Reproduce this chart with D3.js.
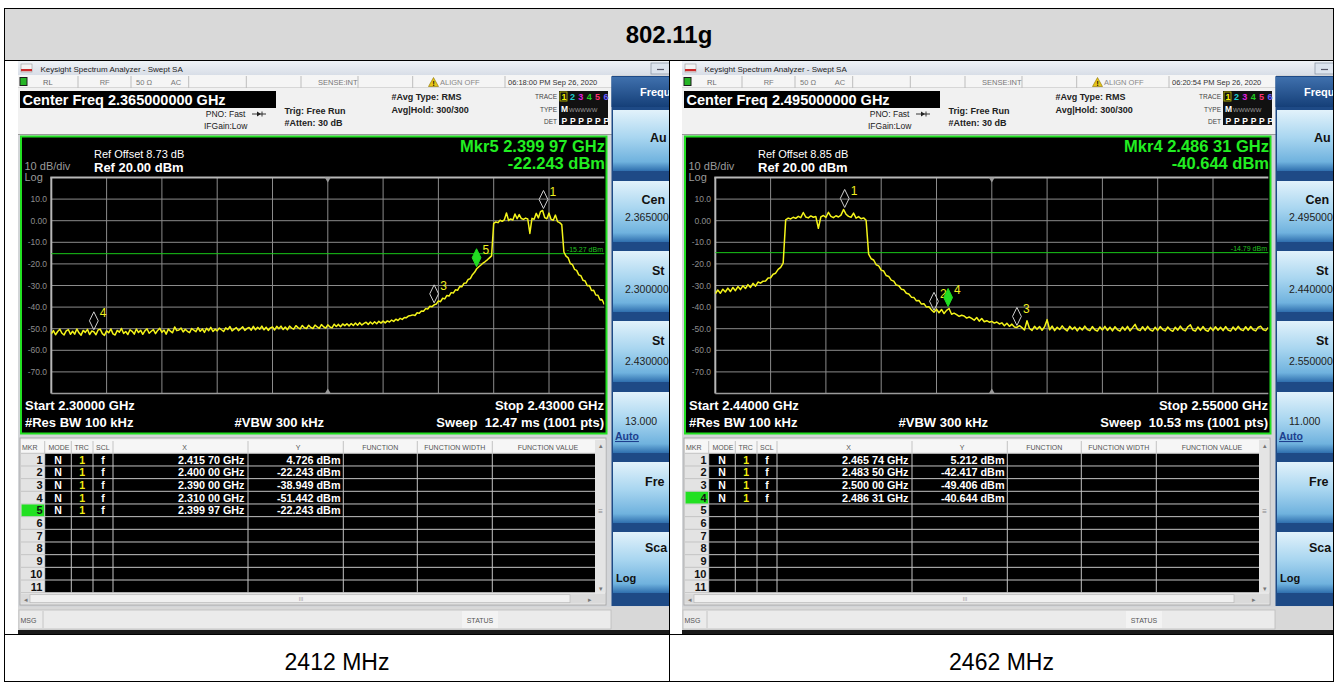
<!DOCTYPE html>
<html>
<head>
<meta charset="utf-8">
<title>802.11g band edge</title>
<script src="https://cdn.jsdelivr.net/npm/d3@7/dist/d3.min.js"></script>
<style>
html,body{margin:0;padding:0;background:#fff;}
svg{display:block;}
text{font-family:"Liberation Sans",Arial,Helvetica,sans-serif;}
</style>
</head>
<body>
<svg id="chart" width="1338" height="682"></svg>
<script>
// ---------- data ----------
const tableTitle = "802.11g";
const channelLabels = ["2412 MHz", "2462 MHz"];

const leftSpan = [2.30, 2.43];     // GHz
const rightSpan = [2.44, 2.55];    // GHz
const centerFreqs = [2.365, 2.495];
const refOffsets = [8.73, 8.85];
const sweepTimes = [12.47, 10.53];
const clockTexts = ["06:18:00 PM Sep 26, 2020", "06:20:54 PM Sep 26, 2020"];
const displayLines = [-15.27, -14.79];
const activeMarker = [5, 4];

const levelTicks = [10, 0, -10, -20, -30, -40, -50, -60, -70];
const levelTickLabels = ["10.0", "0.00", "-10.0", "-20.0", "-30.0", "-40.0", "-50.0", "-60.0", "-70.0"];

// trace 1, 0.5 MHz per point, dBm
const leftTrace = [
-52.4,-50.9,-52.8,-51.3,-50.2,-52.1,-52.9,-51.0,-50.4,-52.6,
-51.2,-52.5,-50.1,-51.9,-53.0,-50.8,-51.7,-50.3,-52.7,-51.1,
-51.442,-52.8,-50.6,-50.2,-52.3,-53.1,-51.0,-51.9,-50.1,-52.4,
-52.9,-50.8,-51.6,-49.9,-52.2,-51.3,-52.7,-50.5,-51.2,-52.5,
-50.1,-51.8,-50.7,-52.6,-51.0,-50.0,-52.1,-51.2,-50.4,-52.3,
-50.8,-49.8,-51.7,-50.6,-52.5,-50.2,-51.1,-51.9,-49.2,-50.9,
-50.6,-49.7,-51.5,-50.3,-51.2,-51.8,-49.9,-50.7,-51.4,-49.5,
-51.2,-50.1,-51.7,-49.8,-50.9,-49.4,-51.3,-50.2,-51.0,-49.7,
-50.5,-51.3,-49.6,-50.4,-49.0,-51.0,-50.2,-49.5,-50.9,-50.0,
-49.1,-50.8,-49.9,-49.4,-50.7,-48.9,-50.5,-49.3,-50.2,-48.8,
-50.5,-49.3,-50.8,-49.6,-49.2,-50.6,-48.9,-50.0,-48.8,-50.4,
-49.2,-50.5,-48.8,-49.7,-50.2,-48.6,-49.5,-50.1,-48.5,-49.6,
-49.9,-48.4,-49.4,-49.9,-48.3,-49.2,-49.8,-48.1,-49.1,-49.7,
-48.2,-49.2,-49.6,-47.9,-49.0,-48.0,-49.1,-47.8,-48.6,-47.7,
-48.7,-47.6,-48.5,-47.4,-48.4,-47.2,-48.3,-47.5,-47.0,-48.0,
-46.9,-47.8,-46.8,-47.7,-46.6,-47.4,-46.5,-47.3,-46.4,-46.9,
-46.0,-46.6,-45.6,-46.2,-45.2,-45.7,-44.8,-44.9,-44.1,-43.9,
-43.6,-43.9,-42.6,-42.9,-41.8,-41.9,-40.7,-40.9,-39.6,-39.8,
-38.949,-38.6,-37.1,-37.5,-35.9,-36.2,-34.6,-34.9,-33.3,-33.5,
-32.0,-32.2,-30.5,-30.6,-29.0,-28.9,-27.2,-26.8,-25.0,-23.9,
-22.243,-21.3,-20.5,-19.6,-18.9,-18.1,-17.2,-16.3,
-1.2,-0.6,-0.9,0.2,-0.3,0.4,3.6,0.1,0.8,0.3,
3.1,0.9,2.8,1.0,0.6,1.2,0.8,-5.9,1.1,0.7,
3.4,1.3,4.2,4.726,1.4,0.9,3.5,0.6,0.2,2.6,
-0.4,-0.9,-1.8,
-14.5,-16.4,-17.2,-19.8,-20.3,-22.5,-23.0,-25.1,-25.5,-27.6,
-27.9,-30.1,-30.0,-32.3,-32.2,-34.4,-34.5,-36.7,-36.6,-38.8
];

const rightTrace = [
-33.8,-32.1,-33.6,-31.7,-33.0,-31.2,-32.8,-30.9,-32.4,-30.5,
-31.9,-30.1,-31.4,-29.6,-30.9,-29.0,-30.3,-28.4,-28.9,-28.0,
-27.9,-26.5,-26.4,-24.8,-24.3,-22.5,-21.6,-19.6,
0.4,1.2,0.8,1.6,1.1,2.0,1.4,3.8,1.7,1.3,
2.2,1.6,1.9,-3.5,1.8,2.4,1.5,3.9,2.0,1.4,
2.3,1.7,2.6,5.212,3.0,2.0,1.6,3.5,1.2,1.9,0.9,1.3,0.2,
-15.5,-17.6,-18.2,-20.4,-20.9,-22.9,-23.3,-25.4,-25.8,-27.5,
-28.0,-29.8,-30.1,-31.7,-32.0,-33.6,-33.9,-35.4,-35.5,-37.1,
-36.9,-38.6,-38.4,-40.0,-39.8,-41.3,-42.417,-41.0,-42.6,-41.1,
-43.0,-41.5,-40.644,-43.3,-42.8,-43.5,-44.3,-43.8,-44.1,-45.1,
-44.6,-45.2,-46.1,-44.8,-46.5,-45.3,-46.8,-46.3,-47.0,-46.6,
-47.4,-46.9,-47.8,-47.3,-48.6,-47.5,-48.9,-47.9,-49.2,-49.406,
-48.6,-49.5,-50.6,-46.3,-49.9,-50.8,-48.9,-50.2,-49.0,-50.7,
-49.1,-45.8,-50.5,-48.8,-50.9,-49.3,-50.4,-48.7,-50.1,-51.0,
-48.9,-50.3,-49.2,-51.0,-49.4,-50.6,-48.8,-50.4,-50.9,-49.0,
-50.5,-51.1,-49.2,-50.6,-48.9,-50.8,-49.3,-51.0,-49.1,-50.5,
-51.1,-49.2,-50.7,-48.9,-51.0,-49.5,-48.0,-50.4,-50.9,-49.1,
-50.8,-48.9,-50.5,-51.1,-49.3,-50.8,-49.0,-50.4,-51.0,-49.2,
-50.5,-51.2,-49.3,-50.7,-48.8,-50.4,-51.0,-49.1,-48.2,-50.6,
-51.1,-49.2,-50.8,-49.0,-50.6,-51.2,-49.4,-50.9,-49.1,-50.7,
-49.3,-50.9,-49.0,-50.6,-51.1,-49.2,-50.7,-48.9,-50.4,-50.9,
-49.1,-50.7,-49.0,-50.5,-51.0,-49.3,-48.9,-50.5,-50.9,-49.4
];

// marker table entries (GHz, dBm)
const leftMarkerFreq = [2.41570, 2.40000, 2.39000, 2.31000, 2.39997];
const leftMarkerLevel = [4.726, -22.243, -38.949, -51.442, -22.243];
const rightMarkerFreq = [2.46574, 2.48350, 2.50000, 2.48631];
const rightMarkerLevel = [5.212, -42.417, -49.406, -40.644];

// ---------- helpers ----------
const svg = d3.select("#chart");
const defs = svg.append("defs");

function grad(id, stops) {
  const lg = defs.append("linearGradient").attr("id", id)
    .attr("x1", 0).attr("y1", 0).attr("x2", 0).attr("y2", 1);
  stops.forEach(([o, c]) => lg.append("stop").attr("offset", o).attr("stop-color", c));
}
grad("gTitle", [[0, "#f1f4f8"], [1, "#d8dee7"]]);
grad("gKey", [[0, "#e2f2fb"], [0.45, "#a9d6f0"], [0.85, "#6fb2de"], [1, "#2f6fae"]]);
grad("gKeyHead", [[0, "#3f70ad"], [1, "#153f78"]]);

const ghzText = f => { const s = f.toFixed(5); return s.slice(0, 5) + " " + s.slice(5) + " GHz"; };
const dbmText = v => v.toFixed(3) + " dBm";

// ---------- outer table ----------
svg.append("rect").attr("x", 4).attr("y", 8).attr("width", 1330).attr("height", 52).attr("fill", "#d9d9d9");
svg.append("text").attr("x", 669).attr("y", 43).attr("text-anchor", "middle")
  .attr("font-size", 24).attr("font-weight", "bold").attr("fill", "#000").text(tableTitle);

// ---------- one analyzer screen ----------
function drawPanel(P) {
  const g = svg.append("g").attr("transform", `translate(${P.dx},0)`);
  const clipId = "clip" + P.dx;
  defs.append("clipPath").attr("id", clipId).append("rect")
    .attr("x", 18).attr("y", 60).attr("width", P.clipW).attr("height", 574);
  const s = g.append("g").attr("clip-path", `url(#${clipId})`);

  const R = (x, y, w, h, fill, stroke, sw) => {
    const r = s.append("rect").attr("x", x).attr("y", y).attr("width", w).attr("height", h).attr("fill", fill);
    if (stroke) r.attr("stroke", stroke).attr("stroke-width", sw || 1);
    return r;
  };
  const T = (x, y, str, o = {}) => {
    const t = s.append("text").attr("x", x).attr("y", y).text(str)
      .attr("font-size", o.size || 8).attr("fill", o.fill || "#333");
    if (o.bold) t.attr("font-weight", "bold");
    if (o.anchor) t.attr("text-anchor", o.anchor);
    if (o.pre) t.style("white-space", "pre");
    if (o.deco) t.attr("text-decoration", o.deco);
    return t;
  };
  const L = (x1, y1, x2, y2, c, w) => s.append("line").attr("x1", x1).attr("y1", y1)
    .attr("x2", x2).attr("y2", y2).attr("stroke", c).attr("stroke-width", w || 1);

  // window background
  R(18, 60, 662, 574, "#d3d5d8");

  // title bar
  R(18, 60, 662, 15, "url(#gTitle)");
  L(18, 60.5, 680, 60.5, "#2b2b2b", 1);
  R(21, 64, 11, 8, "#f4f4f4", "#999", 0.6);
  R(21, 69, 11, 2.2, "#cc2a2a");
  T(40.5, 72, "Keysight Spectrum Analyzer - Swept SA", { size: 8, fill: "#222" });
  R(651, 63, 20, 11, "#dce4ee", "#8e9aa8", 0.8);
  L(657, 69.5, 664, 69.5, "#556", 1.2);

  // status row
  R(18, 75, 594, 13, "#f5f5f5");
  L(18, 88, 612, 88, "#b9b9b9", 1);
  [78, 131, 188.7, 246.3, 301, 358, 412.7, 505].forEach(x => L(x, 76, x, 88, "#bdbdbd", 1));
  R(19.5, 77, 8, 9, "#1c1c1c");
  R(20.5, 78, 6, 7, "#26b526");
  T(43, 85, "RL", { size: 7.5, fill: "#666" });
  T(99.7, 85, "RF", { size: 7.5, fill: "#777" });
  T(136, 85, "50 \u03a9", { size: 7.5, fill: "#777" });
  T(170.7, 85, "AC", { size: 7.5, fill: "#777" });
  T(318, 85, "SENSE:INT", { size: 7.5, fill: "#777" });
  s.append("path").attr("d", "M433.5,77.5 L438.5,86.5 L428.5,86.5 Z").attr("fill", "#e6c419").attr("stroke", "#8a7000").attr("stroke-width", 0.6);
  T(433.5, 85.7, "!", { size: 6.5, fill: "#000", bold: true, anchor: "middle" });
  T(440, 85, "ALIGN OFF", { size: 7.5, fill: "#888" });
  T(508, 85, P.clock, { size: 7.5, fill: "#333" });

  // setting area
  R(18, 88, 594, 47, "#f1f1f1");
  L(18, 134.5, 612, 134.5, "#9a9a9a", 1);
  R(20, 91, 256, 17, "#000");
  T(22.5, 105, "Center Freq " + P.center.toFixed(9) + " GHz", { size: 14.5, bold: true, fill: "#fff" });
  T(245.5, 117, "PNO: Fast", { size: 8.5, fill: "#222", anchor: "end" });
  T(204, 129, "IFGain:Low", { size: 8.5, fill: "#222" });
  L(252, 114, 266, 114, "#222", 0.9);
  s.append("path").attr("d", "M257,111.5 L261,114 L257,116.5 Z").attr("fill", "#222");
  L(262, 111.5, 262, 116.5, "#222", 0.9);
  T(284.5, 114, "Trig: Free Run", { size: 9, bold: true, fill: "#222" });
  T(284.5, 126, "#Atten: 30 dB", { size: 9, bold: true, fill: "#222" });
  T(391.5, 100, "#Avg Type: RMS", { size: 9, bold: true, fill: "#222" });
  T(391.5, 113, "Avg|Hold: 300/300", { size: 9, bold: true, fill: "#222" });
  T(557, 99, "TRACE", { size: 6.5, fill: "#444", anchor: "end" });
  T(557, 112, "TYPE", { size: 6.5, fill: "#444", anchor: "end" });
  T(557, 124, "DET", { size: 6.5, fill: "#444", anchor: "end" });
  R(559, 91, 49, 34, "#111");
  const traceCols = ["#f5f000", "#1fd0d0", "#e020e0", "#22d022", "#ff3070", "#6a5cff"];
  traceCols.forEach((c, i) => T(561.5 + i * 8.4, 100, String(i + 1), { size: 9, bold: true, fill: c }));
  R(560, 92, 7, 9, "none", "#c8c800", 0.8);
  T(561, 112, "M", { size: 8.5, bold: true, fill: "#fff" });
  T(569, 111.5, "WWWWW", { size: 6, fill: "#999" });
  [0, 1, 2, 3, 4, 5].forEach(i => T(561.5 + i * 8.4, 123.5, "P", { size: 8.5, bold: true, fill: "#fff" }));

  // soft key column
  R(611.5, 76, 70, 530, "#1e4a86");
  R(611.5, 77, 70, 30, "url(#gKeyHead)");
  T(640, 96, "Frequ", { size: 11, bold: true, fill: "#fff" });
  const keyTops = [110, 181, 251, 321, 392, 462, 532];
  keyTops.forEach(y => R(613, y, 70, 61, "url(#gKey)"));
  T(650, 142, "Au", { size: 12.5, bold: true, fill: "#111" });
  T(641.5, 204, "Cen", { size: 12.5, bold: true, fill: "#111" });
  T(625, 221, P.center.toFixed(6), { size: 10.5, fill: "#222" });
  T(652, 275, "St", { size: 12.5, bold: true, fill: "#111" });
  T(625, 293, P.span[0].toFixed(6), { size: 10.5, fill: "#222" });
  T(652, 345, "St", { size: 12.5, bold: true, fill: "#111" });
  T(625, 365, P.span[1].toFixed(6), { size: 10.5, fill: "#222" });
  T(625, 425, ((P.span[1] - P.span[0]) * 100).toFixed(3), { size: 10.5, fill: "#222" });
  T(615, 440, "Auto", { size: 10.5, bold: true, fill: "#1d3f8e", deco: "underline" });
  T(645, 486, "Fre", { size: 12.5, bold: true, fill: "#111" });
  T(645, 552, "Sca", { size: 12.5, bold: true, fill: "#111" });
  T(616, 582, "Log", { size: 11, bold: true, fill: "#111" });

  // ---- graticule display ----
  R(21, 136.5, 585.5, 297, "#000", "#22e022", 2);
  const x = d3.scaleLinear().domain(P.span).range([51.3, 604.3]);
  const y = d3.scaleLinear().domain([20, -80]).range([177.5, 393.5]);

  const divX = d3.range(11).map(i => P.span[0] + i * (P.span[1] - P.span[0]) / 10);
  const divY = d3.range(11).map(i => 20 - i * 10);
  divX.slice(1, 10).forEach(f => L(x(f), y(20), x(f), y(-80), "#8b8b8b", 1));
  divY.slice(1, 10).forEach(v => L(x(P.span[0]), y(v), x(P.span[1]), y(v), "#8b8b8b", 1));
  L(x(P.span[0]) - 1, y(20), x(P.span[1]), y(20), "#b8b8b8", 2);
  L(x(P.span[0]), y(20), x(P.span[0]), y(-80), "#b8b8b8", 2);
  L(x(P.span[0]), y(-80), x(P.span[1]), y(-80), "#9a9a9a", 1.5);
  const cx = x(P.center);
  s.append("path").attr("d", `M${cx - 3},${y(20)} L${cx + 3},${y(20)} L${cx},${y(20) + 5} Z`).attr("fill", "#9a9a9a");
  s.append("path").attr("d", `M${cx - 3},${y(-80)} L${cx + 3},${y(-80)} L${cx},${y(-80) - 5} Z`).attr("fill", "#9a9a9a");

  levelTicks.forEach((v, i) => T(47, y(v) + 3, levelTickLabels[i], { size: 8.5, fill: "#8d8d8d", anchor: "end" }));
  T(24.5, 170, "10 dB/div", { size: 11, fill: "#9a9a9a" });
  T(24.5, 180.5, "Log", { size: 11, fill: "#9a9a9a" });
  T(94, 158, "Ref Offset " + P.refOffset.toFixed(2) + " dB", { size: 11, fill: "#fff" });
  T(94, 171.5, "Ref 20.00 dBm", { size: 13, bold: true, fill: "#fff" });

  // display line
  L(x(P.span[0]), y(P.dline), x(P.span[1]), y(P.dline), "#19c819", 1);
  T(603, y(P.dline) - 2, P.dline.toFixed(2) + " dBm", { size: 7, fill: "#22c022", anchor: "end" });

  // trace
  const step = (P.span[1] - P.span[0]) / (P.trace.length - 1);
  const gridClip = "gclip" + P.dx;
  defs.append("clipPath").attr("id", gridClip).append("rect")
    .attr("x", 51.3).attr("y", 177.5).attr("width", 553).attr("height", 216);
  s.append("path").datum(P.trace)
    .attr("clip-path", `url(#${gridClip})`)
    .attr("d", d3.line().x((v, i) => x(P.span[0] + i * step)).y(v => y(v)))
    .attr("fill", "none").attr("stroke", "#f4f41a").attr("stroke-width", 1.5)
    .attr("stroke-linejoin", "round");

  // markers: the active one is drawn last, and markers sitting under it keep only their diamond
  const a = P.active - 1;
  const order = d3.range(P.mFreq.length).filter(i => i !== a).concat([a]);
  order.forEach(i => {
    const f = P.mFreq[i];
    const mx = x(f), my = y(P.mLevel[i]) - 2;
    const isActive = i === a;
    const hidden = !isActive && Math.abs(mx - x(P.mFreq[a])) < 2 && Math.abs(my - (y(P.mLevel[a]) - 2)) < 2;
    if (hidden) return;
    s.append("path")
      .attr("d", `M${mx},${my} L${mx + 4.4},${my - 9} L${mx},${my - 18} L${mx - 4.4},${my - 9} Z`)
      .attr("fill", isActive ? "#22dd22" : "none")
      .attr("stroke", isActive ? "#22dd22" : "#cfcfcf").attr("stroke-width", 1);
    T(mx + 6, my - 12.5, String(i + 1), { size: 12, fill: "#eeee20" });
  });

  // active marker readout
  T(605, 151.5, "Mkr" + P.active + " " + ghzText(P.mFreq[a]), { size: 16.5, bold: true, fill: "#22ee22", anchor: "end" });
  T(605, 168.5, dbmText(P.mLevel[a]), { size: 16.5, bold: true, fill: "#22ee22", anchor: "end" });

  // bottom annotations
  T(25, 410, "Start " + P.span[0].toFixed(5) + " GHz", { size: 13, bold: true, fill: "#fff" });
  T(25, 426.5, "#Res BW 100 kHz", { size: 13, bold: true, fill: "#fff" });
  T(234.5, 426.5, "#VBW 300 kHz", { size: 13, bold: true, fill: "#fff" });
  T(604, 410, "Stop " + P.span[1].toFixed(5) + " GHz", { size: 13, bold: true, fill: "#fff", anchor: "end" });
  T(604, 426.5, "Sweep  " + P.sweep.toFixed(2) + " ms (1001 pts)", { size: 13, bold: true, fill: "#fff", anchor: "end", pre: true });

  // ---- marker table ----
  const colX = [21, 44.7, 71.3, 93, 113, 248, 343.3, 417.3, 492.3, 595];
  const top = 440, headH = 13.3, rowH = 12.67, nRows = 11;
  const bodyTop = top + headH, bodyBot = bodyTop + nRows * rowH;
  R(20, 438, 586, 167, "#eeeeee", "#a8a8a8", 1);
  R(21, top, 574, headH, "#f6f6f6");
  R(colX[1], bodyTop, colX[9] - colX[1], nRows * rowH, "#000");
  R(21, bodyTop, colX[1] - 21, nRows * rowH, "#e3e3e3");
  colX.slice(1, 9).forEach(cxl => L(cxl, top + 1, cxl, bodyBot, "#c4c4c4", 1));
  d3.range(nRows + 1).forEach(r => L(21, bodyTop + r * rowH, colX[9], bodyTop + r * rowH, "#c4c4c4", 1));
  const hy = top + 9.5;
  T(22, hy, "MKR", { size: 7, fill: "#555" });
  T(48.5, hy, "MODE", { size: 7, fill: "#555" });
  T(74.5, hy, "TRC", { size: 7, fill: "#555" });
  T(96, hy, "SCL", { size: 7, fill: "#555" });
  T(184.7, hy, "X", { size: 7, fill: "#555", anchor: "middle" });
  T(298, hy, "Y", { size: 7, fill: "#555", anchor: "middle" });
  T(380.3, hy, "FUNCTION", { size: 7, fill: "#555", anchor: "middle" });
  T(454.8, hy, "FUNCTION WIDTH", { size: 7, fill: "#555", anchor: "middle" });
  T(548, hy, "FUNCTION VALUE", { size: 7, fill: "#555", anchor: "middle" });

  d3.range(nRows).forEach(r => {
    const ry = bodyTop + r * rowH;
    if (r + 1 === P.active) R(21.5, ry + 0.5, colX[1] - 22, rowH - 1, "#22e022");
    T(42.5, ry + 10.5, String(r + 1), { size: 11, bold: true, fill: "#111", anchor: "end" });
    if (r < P.mFreq.length) {
      T(58, ry + 10.2, "N", { size: 10.5, bold: true, fill: "#fff", anchor: "middle" });
      T(82.2, ry + 10.2, "1", { size: 10.5, bold: true, fill: "#f0ee10", anchor: "middle" });
      T(103, ry + 10.2, "f", { size: 10.5, bold: true, fill: "#fff", anchor: "middle" });
      T(244.5, ry + 10.2, ghzText(P.mFreq[r]), { size: 10.8, bold: true, fill: "#fff", anchor: "end" });
      T(340.5, ry + 10.2, dbmText(P.mLevel[r]), { size: 10.8, bold: true, fill: "#fff", anchor: "end" });
    }
  });
  // scroll bars
  R(colX[9], top, 10.5, bodyBot - top, "#e4e4e4");
  T(600.5, top + 8, "\u25b4", { size: 7, fill: "#777", anchor: "middle" });
  T(600.5, 514, "\u2261", { size: 8, fill: "#888", anchor: "middle" });
  T(600.5, bodyBot - 2, "\u25be", { size: 7, fill: "#777", anchor: "middle" });
  R(21, bodyBot + 1, 584, 10, "#dadada");
  R(30, bodyBot + 2, 540, 8, "#f0f0f0", "#b9b9b9", 0.7);
  T(24, bodyBot + 9, "\u25c2", { size: 7, fill: "#777" });
  T(301, bodyBot + 8.5, "III", { size: 5.5, fill: "#999", anchor: "middle" });
  T(588, bodyBot + 9, "\u25b8", { size: 7, fill: "#777" });

  // message bar
  R(18, 607, 662, 23, "#d8d8d8");
  R(19, 610, 592, 19, "#ebebeb", "#bcbcbc", 0.8);
  L(43, 611, 43, 628, "#c6c6c6", 1);
  T(20.5, 623, "MSG", { size: 7, fill: "#555" });
  R(462, 611, 36, 17, "#f3f3f3");
  T(480, 623, "STATUS", { size: 7, fill: "#555", anchor: "middle" });
  R(18, 630, 662, 4, "#1a1a1a");
}

const panels = [
  { dx: 0, clipW: 651, span: leftSpan, trace: leftTrace, mFreq: leftMarkerFreq, mLevel: leftMarkerLevel,
    active: activeMarker[0], center: centerFreqs[0], refOffset: refOffsets[0], sweep: sweepTimes[0],
    clock: clockTexts[0], dline: displayLines[0] },
  { dx: 664, clipW: 652, span: rightSpan, trace: rightTrace, mFreq: rightMarkerFreq, mLevel: rightMarkerLevel,
    active: activeMarker[1], center: centerFreqs[1], refOffset: refOffsets[1], sweep: sweepTimes[1],
    clock: clockTexts[1], dline: displayLines[1] }
];
panels.forEach(drawPanel);

// channel captions
channelLabels.forEach((t, i) => svg.append("text").attr("x", i === 0 ? 337 : 1001.5).attr("y", 670)
  .attr("text-anchor", "middle").attr("font-size", 23).attr("fill", "#000").text(t));

// table rules
const rule = (x1, y1, x2, y2) => svg.append("line").attr("x1", x1).attr("y1", y1).attr("x2", x2).attr("y2", y2)
  .attr("stroke", "#000").attr("stroke-width", 1);
rule(4, 8.5, 1334, 8.5);
rule(4, 60.5, 1334, 60.5);
rule(4, 634.5, 1334, 634.5);
rule(4, 681.5, 1334, 681.5);
rule(4.5, 8, 4.5, 682);
rule(1333.5, 8, 1333.5, 682);
rule(669.5, 60, 669.5, 682);
</script>
</body>
</html>
